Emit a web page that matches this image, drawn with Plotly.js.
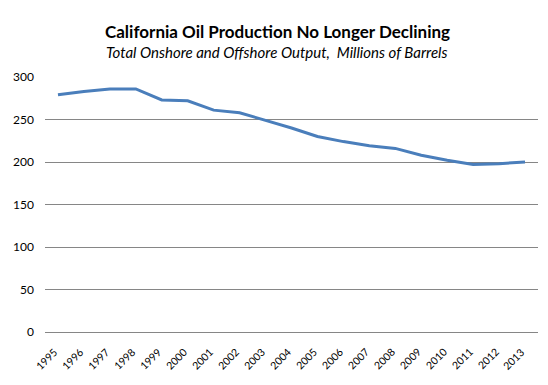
<!DOCTYPE html>
<html>
<head>
<meta charset="utf-8">
<script src="https://cdn.plot.ly/plotly-3.0.1.min.js"></script>
<style>html,body{margin:0;padding:0;background:#fff;}#chart{width:548px;height:385px;}</style>
</head>
<body>
<div id="chart"></div>
<script>
const years = ["1995","1996","1997","1998","1999","2000","2001","2002","2003","2004","2005","2006","2007","2008","2009","2010","2011","2012","2013"];
const production = [279, 283, 286, 286, 273, 272, 261, 258, 249, 240, 230, 224, 219, 216, 208, 202, 197, 198, 200];
const yTicks = [0, 50, 100, 150, 200, 250, 300];

const font = "Lato, 'Open Sans', sans-serif";

const yearLabels = years.map(function (yr, i) {
  return {
    text: yr, xref: "x", yref: "paper", x: i, y: 0,
    xanchor: "right", yanchor: "top", xshift: 4, yshift: -11,
    textangle: -45, showarrow: false,
    font: {family: font, size: 10.5, color: "#000"}
  };
});

Plotly.newPlot("chart", [{
  x: years,
  y: production,
  type: "scatter",
  mode: "lines",
  line: {color: "#4A7EBB", width: 3},
  hoverinfo: "none"
}], {
  width: 548,
  height: 385,
  margin: {l: 45, r: 10, t: 77, b: 53},
  paper_bgcolor: "#fff",
  plot_bgcolor: "#fff",
  showlegend: false,
  font: {family: font, size: 11, color: "#000"},
  annotations: [
    {text: "<b>California Oil Production No Longer Declining</b>", xref: "paper", yref: "paper",
     x: 0.471, y: 1, yanchor: "middle", yshift: 46, showarrow: false, font: {family: font, size: 17, color: "#000"}},
    {text: "<i>Total Onshore and Offshore Output,  Millions of Barrels</i>", xref: "paper", yref: "paper",
     x: 0.471, y: 1, yanchor: "middle", yshift: 25, showarrow: false, font: {family: font, size: 15, color: "#000"}}
  ].concat(yearLabels),
  xaxis: {
    type: "category",
    range: [-0.5, years.length - 0.5],
    autorange: false,
    showticklabels: false,
    showgrid: false,
    showline: true,
    linecolor: "#868686",
    linewidth: 1,
    ticks: "",
    zeroline: false
  },
  yaxis: {
    range: [0, 300],
    tickvals: yTicks,
    ticktext: yTicks.map(String),
    showgrid: true,
    gridcolor: "#868686",
    gridwidth: 1,
    zeroline: false,
    showline: false,
    ticks: "",
    ticklabelstandoff: 10,
    tickfont: {family: font, size: 12, color: "#000"}
  }
}, {staticPlot: true, displayModeBar: false});
</script>
</body>
</html>
